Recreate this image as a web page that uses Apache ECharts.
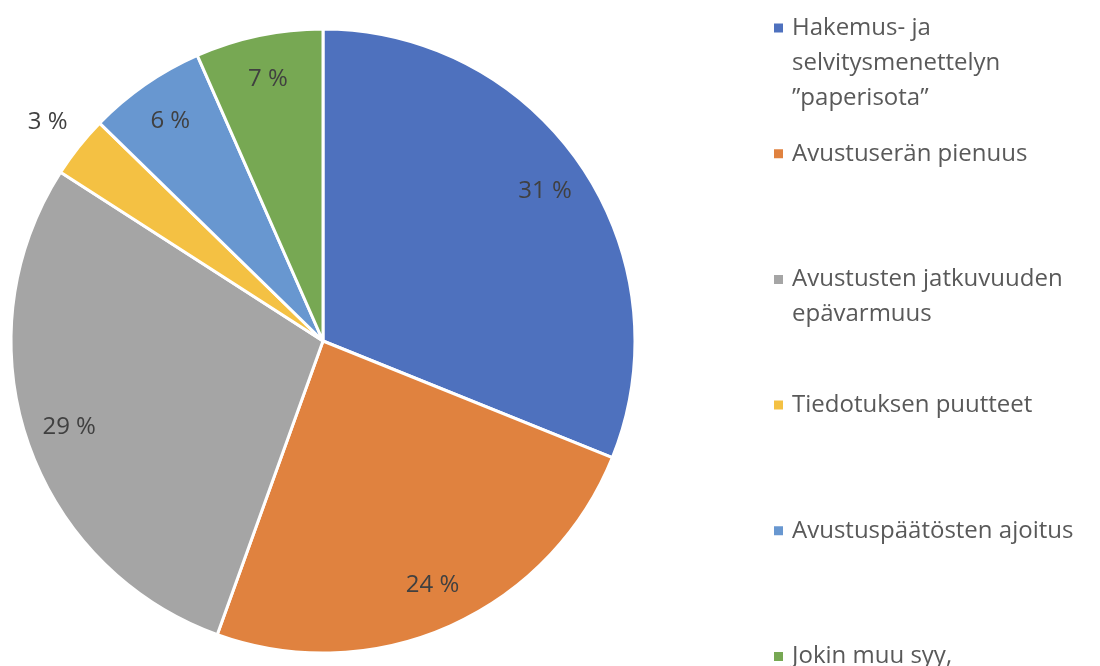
<!DOCTYPE html>
<html>
<head>
<meta charset="utf-8">
<script src="https://cdn.jsdelivr.net/npm/echarts@6/dist/echarts.min.js"></script>
<style>
  html, body { margin: 0; padding: 0; background: #fff; }
  #chart { width: 1100px; height: 666px; }
</style>
</head>
<body>
<div id="chart"></div>
<script>
const categories = [
  "Hakemus- ja\nselvitysmenettelyn\n”paperisota”",
  "Avustuserän pienuus",
  "Avustusten jatkuvuuden\nepävarmuus",
  "Tiedotuksen puutteet",
  "Avustuspäätösten ajoitus",
  "Jokin muu syy,"
];
const shares = [31.1, 24.4, 28.6, 3.2, 6.1, 6.6];
const colors = ["#4E71BE", "#E0823F", "#A5A5A5", "#F4C143", "#6897D0", "#77A853"];

const chart = echarts.init(document.getElementById("chart"));

const FONT = "Open Sans";
const LH = 35;
const center = [323, 341];
const R = 312;

const pctLabel = (p) => Math.round(p.value) + " %";

// one legend per item so every entry sits at its own slot;
// blank lines in front keep the icon level with the first text line
const legends = categories.map((name, i) => {
  const lines = name.split("\n").length;
  const h = (2 * lines - 1) * LH;
  const iconY = 28 + i * 125.7;
  return {
    data: [name],
    orient: "vertical",
    left: 772,
    top: iconY - h / 2,
    padding: 0,
    icon: "rect",
    itemWidth: 11,
    itemHeight: 11,
    selectedMode: false,
    formatter: (n) => "\n".repeat(lines - 1) + n,
    textStyle: {
      fontFamily: FONT,
      fontSize: 24,
      color: "#595959",
      lineHeight: LH,
      padding: [0, 0, 0, 3]
    }
  };
});

const pieData = categories.map((name, i) => ({
  name,
  value: shares[i],
  itemStyle: { color: colors[i] }
}));

const labelData = (showIdx) =>
  categories.map((name, i) => ({
    name,
    value: shares[i],
    label: { show: showIdx(i) }
  }));

const option = {
  animation: false,
  legend: legends,
  series: [
    {
      type: "pie",
      center,
      radius: R,
      startAngle: 90,
      data: pieData,
      itemStyle: { borderColor: "#fff", borderWidth: 3 },
      label: { show: false },
      labelLine: { show: false },
      emphasis: { disabled: true }
    },
    {
      // inner labels, placed at ~0.85 r
      type: "pie",
      center,
      radius: [218, R],
      startAngle: 90,
      silent: true,
      data: labelData((i) => i !== 3),
      itemStyle: { color: "rgba(0,0,0,0)" },
      label: {
        position: "inside",
        formatter: pctLabel,
        fontFamily: FONT,
        fontSize: 24,
        color: "#404040"
      },
      labelLine: { show: false },
      emphasis: { disabled: true }
    },
    {
      // small slice label outside the pie
      type: "pie",
      center,
      radius: [R, 386],
      startAngle: 90,
      silent: true,
      data: labelData((i) => i === 3),
      itemStyle: { color: "rgba(0,0,0,0)" },
      label: {
        position: "inside",
        formatter: pctLabel,
        fontFamily: FONT,
        fontSize: 24,
        color: "#404040"
      },
      labelLine: { show: false },
      emphasis: { disabled: true }
    }
  ]
};

chart.setOption(option);
</script>
</body>
</html>
